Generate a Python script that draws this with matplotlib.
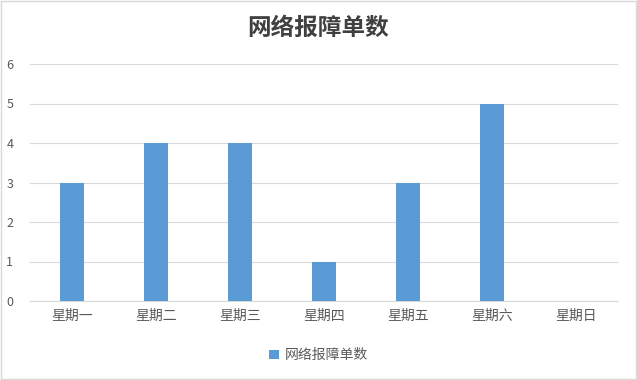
import matplotlib.pyplot as plt
from matplotlib.patches import Rectangle

plt.rcParams['font.family'] = ['Noto Sans CJK SC', 'DejaVu Sans']

days = ['星期一', '星期二', '星期三', '星期四', '星期五', '星期六', '星期日']
counts = [3, 4, 4, 1, 3, 5, 0]
series_name = '网络报障单数'

fig = plt.figure(figsize=(6.37, 3.80), dpi=100)
ax = fig.add_axes((30 / 637, 79 / 380, 588 / 637, 237 / 380))

x = range(len(days))
ax.bar(x, counts, width=0.29, color='#5B9BD5', label=series_name, zorder=3)

ax.set_xlim(-0.5, len(days) - 0.5)
ax.set_ylim(0, 6)
ax.set_yticks(range(0, 7))
ax.set_xticks(list(x))
ax.set_xticklabels(days)
ax.grid(axis='y', color='#D9D9D9', linewidth=0.8, zorder=0)
for s in ['top', 'right', 'left']:
    ax.spines[s].set_visible(False)
ax.spines['bottom'].set_color('#D9D9D9')
ax.tick_params(axis='both', length=0, colors='#595959', labelsize=10)
ax.tick_params(axis='x', pad=6)
ax.tick_params(axis='y', pad=12, labelsize=9)

fig.text(0.5, 0.928, series_name, ha='center', va='center', fontsize=17,
         fontweight='bold', color='#404040')

leg = fig.legend(loc='center', bbox_to_anchor=(0.5, 0.065), frameon=False,
                 fontsize=10, handlelength=0.7, handleheight=0.7, handletextpad=0.4)
for t in leg.get_texts():
    t.set_color('#595959')

fig.patches.append(Rectangle((0.002, 0.003), 0.996, 0.994, transform=fig.transFigure,
                             fill=False, edgecolor='#D9D9D9', linewidth=1))

fig.savefig('out.png', dpi=100)
